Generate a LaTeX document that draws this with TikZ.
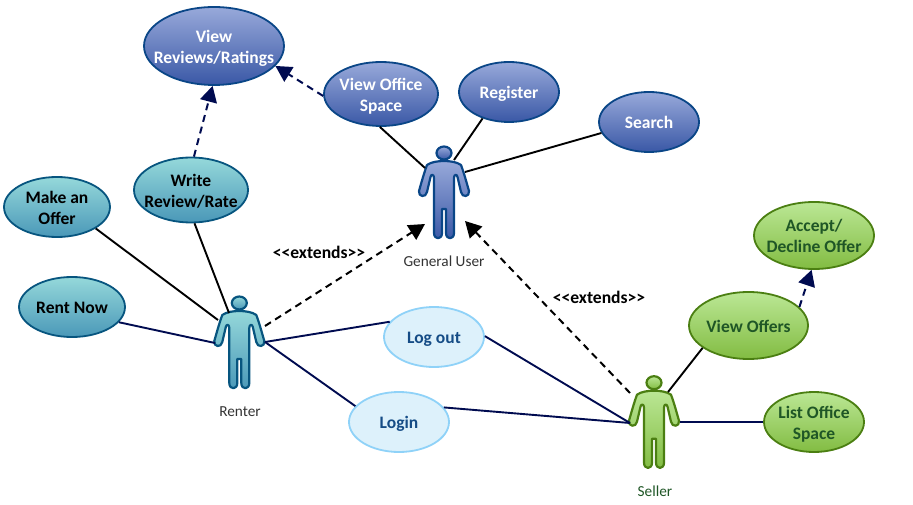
\documentclass[tikz,border=0pt]{standalone}
\usepackage{fontspec}
\setmainfont{Carlito}
\usetikzlibrary{shapes.geometric,arrows.meta}
\definecolor{navy}{HTML}{000B50}
\definecolor{blueT}{HTML}{98A9DA}\definecolor{blueB}{HTML}{3A58A6}\definecolor{blueD}{HTML}{0A4687}
\definecolor{tealT}{HTML}{95D8DA}\definecolor{tealB}{HTML}{4A98B8}\definecolor{tealD}{HTML}{07557F}
\definecolor{greenT}{HTML}{BBE795}\definecolor{greenB}{HTML}{82BC42}\definecolor{greenD}{HTML}{4B7F12}
\definecolor{greenTx}{HTML}{1F5626}
\definecolor{lightF}{HTML}{DDF1FB}\definecolor{lightD}{HTML}{8FD2F8}\definecolor{lightTx}{HTML}{154C86}
\definecolor{lab}{HTML}{333333}
\newcommand\uctext[1]{\smash{\raisebox{-6.8pt}{\makebox[0pt]{\begin{tabular}{@{}c@{}}#1\end{tabular}}}}}
\tikzset{
  x=1pt,y=-1pt,
  usecase/.style={ellipse,inner sep=0pt,line width=1.8pt,font=\fontsize{17.5}{21}\selectfont\bfseries},
  bluecase/.style={usecase,draw=blueD,top color=blueT,bottom color=blueB,text=white},
  tealcase/.style={usecase,draw=tealD,top color=tealT,bottom color=tealB,text=black},
  greencase/.style={usecase,draw=greenD,top color=greenT,bottom color=greenB,text=greenTx},
  lightcase/.style={usecase,draw=lightD,fill=lightF,text=lightTx},
  size/.style 2 args={minimum width=#1,minimum height=#2},
  solidb/.style={line width=1.9pt,black},
  solidn/.style={line width=1.9pt,navy},
  dep/.style={line width=2pt,dash pattern=on 7pt off 5pt,-{Triangle[length=16pt,width=17pt]}},
  actorlabel/.style={font=\fontsize{15.3}{18}\selectfont},
  ext/.style={font=\fontsize{17.6}{20}\selectfont\bfseries,black},
  actor/.pic={
    \path[pic actions,line width=2.2pt] (0,0) ellipse [x radius=7.5,y radius=6.5];
    \path[pic actions,line width=2.2pt,line join=round]
      (0,8) .. controls (-6,8) and (-13,9) .. (-17,12)
      .. controls (-20,20) and (-23,31) .. (-25,38)
      .. controls (-26,44) and (-18,45) .. (-17,39)
      -- (-13.5,24) .. controls (-13,21) and (-10,21) .. (-10,25)
      -- (-10,80) .. controls (-10,87) and (-2,87) .. (-2,80)
      -- (-2,56) -- (2,56) -- (2,80)
      .. controls (2,87) and (10,87) .. (10,80)
      -- (10,25) .. controls (10,21) and (13,21) .. (13.5,24)
      -- (17,39) .. controls (18,45) and (26,44) .. (25,38)
      .. controls (23,31) and (20,20) .. (17,12)
      .. controls (13,9) and (6,8) .. (0,8) -- cycle;
  },
}
\begin{document}
\begin{tikzpicture}
\useasboundingbox (0,0) rectangle (913,505);
% use cases
\node[bluecase,size={140}{78}] (rev) at (214,46) {\uctext{View\\Reviews/Ratings}};
\node[bluecase,size={114}{64}] (office) at (381,94) {\uctext{View Office\\Space}};
\node[bluecase,size={100}{60}] (reg) at (509,92) {\uctext{Register}};
\node[bluecase,size={100}{60}] (search) at (649,122) {\uctext{Search}};
\node[tealcase,size={114}{65}] (write) at (191,190) {\uctext{Write\\Review/Rate}};
\node[tealcase,size={106}{60}] (make) at (57,207) {\uctext{Make an\\Offer}};
\node[tealcase,size={106}{60}] (rent) at (72,307) {\uctext{Rent Now}};
\node[lightcase,size={100}{60}] (logout) at (434,337) {\uctext{Log out}};
\node[lightcase,size={100}{60}] (login) at (399,422) {\uctext{Login}};
\node[greencase,size={119}{67}] (offers) at (748.5,325.5) {\uctext{View Offers}};
\node[greencase,size={120}{67}] (accept) at (814,235.5) {\uctext{Accept/\\Decline Offer}};
\node[greencase,size={100}{60}] (list) at (814,422) {\uctext{List Office\\Space}};
% actors
\pic[draw=blueD,top color=blueT,bottom color=blueB] at (444,153) {actor};
\pic[draw=tealD,top color=tealT,bottom color=tealB] at (239.3,303) {actor};
\pic[draw=greenD,top color=greenT,bottom color=greenB] at (654,382.7) {actor};
\node[actorlabel,text=lab] (gulab) at (444,261) {General User};
\node[actorlabel,text=lab] (renlab) at (240,411.5) {Renter};
\node[actorlabel,text=greenTx] (sellab) at (655,491) {Seller};
% connection points on the actors
\coordinate (guA) at (425,168);
\coordinate (guB) at (454,160);
\coordinate (guC) at (465,172);
\coordinate (guD) at (425,224);
\coordinate (guE) at (465,221);
\coordinate (reA) at (229,313);
\coordinate (reB) at (218,320);
\coordinate (reC) at (215,343);
\coordinate (reD) at (265,342);
\coordinate (reE) at (265,326);
\coordinate (seA) at (630,423);
\coordinate (seB) at (668,392);
\coordinate (seC) at (680,422);
\coordinate (seD) at (630,393);
% connectors
\draw[solidb] (office.-92) -- (guA);
\draw[solidb] (reg.-135) -- (guB);
\draw[solidb] (search.193.7) -- (guC);
\draw[solidb] (write.-84.5) -- (reA);
\draw[solidb] (make.-29.6) -- (reB);
\draw[solidn] (rent.-18) -- (reC);
\draw[solidn] (reD) -- (logout.161.6);
\draw[solidn] (reD) -- (login.160.8);
\draw[solidn] (logout.1) -- (seA);
\draw[solidn] (login.18.4) -- (seA);
\draw[solidb] (seB) -- (offers.206.3);
\draw[solidn] (seC) -- (list.180);
\draw[dep,navy] (write.85) -- (rev.-92);
\draw[dep,navy] (office.182) -- (rev.-18);
\draw[dep,navy] (offers.20) -- (accept.-94);
\draw[dep,black] (reE) -- (guD);
\draw[dep,black] (seD) -- (guE);
\node[ext] (ext1) at (319,252.5) {<{}<extends>{}>};
\node[ext] (ext2) at (599,297.5) {<{}<extends>{}>};
\end{tikzpicture}
\end{document}
